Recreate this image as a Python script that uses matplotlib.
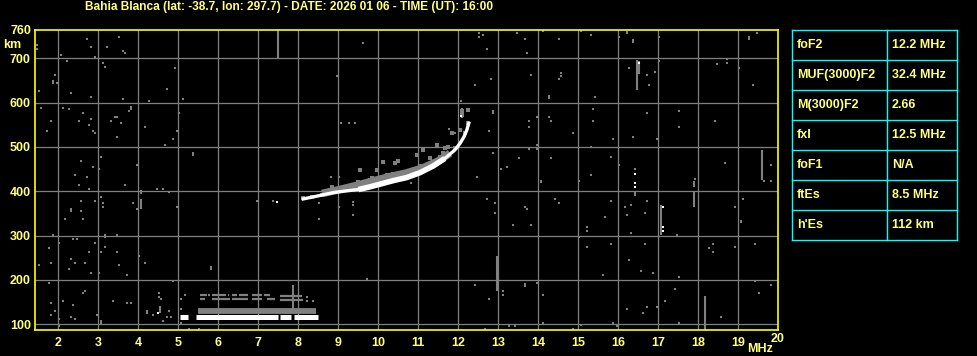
import matplotlib
matplotlib.use("Agg")
import matplotlib.pyplot as plt

TITLE = "Bahia Blanca (lat: -38.7, lon: 297.7) - DATE: 2026 01 06 - TIME (UT): 16:00"

freq_ticks = list(range(2, 20))
height_ticks = list(range(100, 800, 100))

param_names = ["foF2", "MUF(3000)F2", "M(3000)F2", "fxI", "foF1", "ftEs", "h'Es"]
param_values = ["12.2 MHz", "32.4 MHz", "2.66", "12.5 MHz", "N/A", "8.5 MHz", "112 km"]

# F2 trace (white): MHz, km
f2_freq = [8.09, 8.47, 8.88, 9.22, 9.51, 9.80, 10.05, 10.38, 10.72, 11.05,
           11.38, 11.67, 11.92, 12.05, 12.15, 12.22, 12.28]
f2_height = [382, 389, 397, 401, 404, 410, 416, 424, 431, 442,
             457, 474, 493, 508, 523, 538, 557]

# grey band just above the F2 trace
f2_halo_freq = [8.6, 9.0, 9.5, 9.9, 10.3, 10.7, 11.1, 11.5, 11.8]
f2_halo_height = [395, 403, 414, 424, 433, 441, 452, 468, 486]

# grey echoes scattered around the F2 trace
f2_grey = [(8.13, 384), (8.34, 388), (8.59, 392), (8.80, 403), (8.84, 410),
           (9.09, 403), (9.34, 404), (9.51, 422), (9.55, 448), (9.80, 425),
           (9.84, 429), (9.97, 448), (10.13, 467), (10.13, 433), (10.22, 437),
           (10.38, 440), (10.42, 463), (10.51, 469), (10.55, 440), (10.72, 444),
           (10.88, 448), (10.97, 482), (11.05, 456), (11.13, 493), (11.26, 459),
           (11.30, 474), (11.42, 467), (11.47, 504), (11.55, 478), (11.63, 486),
           (11.67, 497), (11.76, 501), (11.84, 531), (11.92, 497), (12.05, 538),
           (12.09, 580), (12.09, 572), (12.26, 583), (12.26, 553), (12.17, 531)]

# sporadic E layer: segments (start MHz, end MHz, km)
es_white = [(5.05, 5.26, 117), (5.45, 7.50, 116), (7.55, 7.83, 117), (7.90, 8.50, 116)]
es_grey_block = [(5.50, 8.45, 131)]
es_grey_rows = [(5.55, 5.72, 165), (5.76, 5.80, 165), (5.86, 6.20, 165), (6.24, 6.28, 165),
                (6.36, 6.47, 165), (6.53, 6.76, 165), (6.86, 7.09, 165), (7.16, 7.30, 165),
                (7.55, 8.10, 163),
                (5.55, 5.68, 156), (5.84, 6.30, 156), (6.36, 6.76, 156), (6.84, 7.09, 156),
                (7.22, 7.42, 156), (7.55, 8.12, 155)]

# short vertical grey streaks: MHz, km from, km to
streaks = [(7.5, 700, 765), (16.48, 629, 696), (16.53, 665, 695), (12.97, 175, 254),
           (19.6, 425, 493), (17.9, 365, 399), (17.9, 410, 424), (17.08, 301, 369),
           (18.17, 87, 164), (7.875, 125, 188), (4.07, 359, 382), (4.54, 125, 142),
           (12.09, 565, 588), (16.43, 390, 399)]

white_dots = [(7.47, 376), (16.53, 690), (16.43, 439), (16.43, 419), (16.43, 410),
              (17.13, 365), (17.13, 320), (17.13, 311), (4.51, 125), (12.07, 570)]

noise_dots = [
    (1.47, 730), (1.47, 721), (2.72, 744), (2.82, 726), (3.52, 749), (3.22, 726),
    (3.62, 717), (3.67, 713), (2.07, 708), (2.92, 704), (2.22, 695), (3.12, 690),
    (3.17, 681), (4.92, 677), (1.92, 663), (1.87, 644), (1.87, 648), (1.97, 645),
    (1.52, 627), (2.32, 622), (2.82, 613), (4.72, 631), (3.62, 609), (4.27, 604),
    (5.12, 609), (1.57, 587), (2.12, 587), (2.27, 586), (2.62, 577), (3.82, 589),
    (3.82, 585), (3.77, 582), (5.02, 577), (1.82, 559), (2.52, 559), (2.82, 564),
    (3.42, 568), (3.47, 568), (3.32, 559), (2.77, 550), (3.57, 555), (4.17, 546),
    (1.72, 537), (2.87, 537), (2.92, 532), (4.97, 537), (4.87, 519), (3.47, 523),
    (4.67, 505), (5.37, 486), (5.37, 482), (2.57, 469), (3.07, 478), (2.87, 455),
    (3.02, 451), (3.97, 460), (2.42, 437), (2.72, 433),
    (9.62, 735), (8.97, 659), (12.52, 757), (12.62, 753), (12.52, 749), (13.47, 758),
    (13.67, 744), (13.72, 713), (12.72, 722), (13.82, 663), (12.82, 654), (12.42, 640),
    (9.07, 555), (9.27, 555), (9.42, 555), (12.07, 604), (12.87, 582), (12.87, 577),
    (13.77, 559), (13.77, 546), (12.77, 537), (11.77, 541), (11.92, 532), (12.87, 487),
    (13.52, 474), (13.07, 451), (13.22, 455), (13.77, 496), (8.82, 433), (9.02, 433),
    (12.47, 433),
    (14.13, 762), (14.53, 744), (15.08, 762), (15.33, 753), (16.03, 749), (16.23, 760),
    (16.23, 756), (16.38, 741), (16.38, 737), (17.03, 749), (19.28, 747), (19.28, 743),
    (19.48, 758), (13.83, 663), (14.58, 667), (14.58, 659), (14.53, 654), (16.28, 677),
    (16.73, 663), (16.78, 640), (16.93, 668), (17.03, 695), (18.48, 686), (18.73, 699),
    (18.73, 690), (19.03, 677), (19.38, 640), (14.28, 615), (14.28, 611), (15.43, 613),
    (13.98, 568), (14.28, 568), (14.33, 559), (15.38, 586), (15.38, 559), (16.73, 577),
    (17.53, 582), (18.43, 559), (17.53, 546), (14.88, 532), (15.88, 519), (16.38, 523),
    (16.98, 519), (13.98, 505), (13.98, 496), (15.33, 501), (14.33, 474), (15.83, 478),
    (16.03, 460), (16.43, 451), (15.33, 437), (17.93, 428), (18.68, 464), (19.83, 460),
    (2.52, 415), (2.77, 406), (3.67, 415), (4.47, 406), (4.62, 406), (3.07, 388),
    (2.57, 379), (2.92, 379), (2.32, 360), (2.32, 356), (3.12, 374), (3.12, 365),
    (2.57, 356), (3.87, 374), (4.07, 400), (4.07, 396), (3.97, 359), (4.77, 398),
    (4.97, 365), (2.17, 338), (2.62, 338), (6.97, 379), (7.37, 379), (1.87, 302),
    (2.02, 284), (2.37, 293), (2.47, 293), (2.92, 284), (3.17, 302), (3.17, 298),
    (3.47, 302), (1.77, 271), (2.77, 262), (3.07, 262), (3.17, 275), (3.47, 262),
    (2.32, 248), (2.42, 239), (2.67, 239), (1.82, 239), (1.52, 234), (2.27, 225),
    (3.52, 234), (2.82, 216), (3.02, 216), (3.72, 212), (4.02, 253), (4.17, 239),
    (5.82, 229), (5.82, 225), (4.87, 198), (1.77, 194), (2.67, 176), (2.62, 171),
    (2.12, 153), (1.82, 149), (2.37, 144), (3.37, 153), (3.72, 149), (3.82, 149),
    (4.52, 171), (4.52, 162), (4.57, 158), (1.92, 131), (1.82, 122), (2.02, 113),
    (2.32, 117), (2.42, 113), (2.97, 122), (3.07, 108), (3.07, 104), (4.22, 130),
    (4.22, 126), (4.37, 122), (4.62, 108), (4.77, 131), (4.72, 117), (4.82, 117),
    (5.07, 158), (5.17, 167), (5.07, 135), (5.07, 104), (5.27, 90), (5.52, 90),
    (2.02, 95),
    (10.82, 419), (12.72, 383), (12.92, 374), (12.92, 352), (13.67, 365), (13.72, 361),
    (13.37, 325), (13.82, 325), (9.02, 365), (9.37, 347), (9.37, 376), (9.37, 370),
    (8.52, 338), (8.52, 373), (9.72, 203), (12.42, 189), (12.77, 158), (13.12, 176),
    (13.12, 167), (13.67, 191), (13.67, 187), (12.67, 90), (13.27, 95), (13.42, 95),
    (8.22, 162), (8.22, 153), (8.37, 153),
    (14.08, 424), (14.08, 420), (15.03, 424), (19.64, 424), (19.83, 424), (14.43, 383),
    (14.53, 374), (15.83, 379), (16.18, 365), (16.33, 370), (16.73, 379), (16.23, 347),
    (16.68, 352), (15.68, 343), (15.23, 320), (15.23, 311), (13.83, 325), (16.33, 307),
    (17.48, 302), (19.13, 383), (18.93, 365), (19.08, 334), (19.08, 330), (15.03, 298),
    (15.23, 275), (15.83, 280), (16.68, 280), (18.38, 280), (18.28, 271), (18.38, 264),
    (18.93, 275), (19.43, 280), (16.28, 244), (16.58, 221), (16.88, 216), (15.63, 212),
    (17.53, 207), (13.98, 194), (19.43, 198), (19.83, 189), (14.13, 167), (17.43, 180),
    (19.53, 171), (17.18, 153), (16.23, 135), (16.73, 140), (16.63, 126), (16.98, 140),
    (18.58, 117), (14.13, 104), (15.88, 104), (17.53, 104), (14.88, 90), (15.08, 99),
    (15.98, 95),
]

YELLOW = "#ffff80"
GREY = "#808080"
FONT = "Liberation Sans"

W, H = 978, 356
fig = plt.figure(figsize=(W / 100, H / 100), dpi=100, facecolor="black")
ax = fig.add_axes([35 / W, 26 / H, 743 / W, 300 / H], facecolor="black")
ax.set_xlim(1.425, 20.0)
ax.set_ylim(87.1, 763.8)

ax.set_xticks(freq_ticks)
ax.set_xticklabels([str(v) for v in freq_ticks])
ax.set_yticks(height_ticks)
ax.set_yticklabels([str(v) for v in height_ticks])
ax.tick_params(length=0, colors=YELLOW, labelsize=9)
ax.tick_params(axis="x", pad=5)
ax.tick_params(axis="y", pad=3)
for lab in ax.get_xticklabels() + ax.get_yticklabels():
    lab.set_fontweight("bold")
    lab.set_family(FONT)
ax.grid(True, color=GREY, lw=0.9)
ax.set_axisbelow(True)
for s in ax.spines.values():
    s.set_color("#ffff00")
    s.set_linewidth(1.2)

# noise
nf, nh = zip(*noise_dots)
ax.plot(nf, nh, "s", color=GREY, ms=1.6, mew=0)
for f, h0, h1 in streaks:
    ax.plot([f, f], [h0, h1], color=GREY, lw=1.5, solid_capstyle="butt")

# sporadic E
for f0, f1, h in es_grey_block:
    ax.plot([f0, f1], [h, h], color=GREY, lw=4.2, solid_capstyle="butt")
for f0, f1, h in es_grey_rows:
    ax.plot([f0, f1], [h, h], color=GREY, lw=1.6, solid_capstyle="butt")
for f0, f1, h in es_white:
    ax.plot([f0, f1], [h, h], color="white", lw=3.6, solid_capstyle="butt")

# F2
ax.plot(f2_halo_freq, f2_halo_height, color=GREY, lw=5.5, solid_capstyle="butt")
gf, gh = zip(*f2_grey)
ax.plot(gf, gh, "s", color=GREY, ms=3.0, mew=0)
ax.plot(f2_freq, f2_height, color="white", lw=2.4, solid_capstyle="butt")
ax.plot(f2_freq[4:12], f2_height[4:12], color="white", lw=4.0, solid_capstyle="butt")
wf, wh = zip(*white_dots)
ax.plot(wf, wh, "s", color="white", ms=1.8, mew=0)

# extra axis labels
txt = dict(color=YELLOW, fontweight="bold", family=FONT, fontsize=9)
fig.text(31 / W, 1 - 31 / H, "760", ha="right", va="center", **txt)
fig.text(21 / W, 1 - 45 / H, "km", ha="right", va="center", **txt)
fig.text(778 / W, 1 - 339 / H, "20", ha="center", va="center", **txt)
fig.text(760 / W, 1 - 349 / H, "MHz", ha="center", va="center", **txt)
fig.text(289 / W, 1 - 7 / H, TITLE, ha="center", va="center",
         color=YELLOW, fontweight="bold", family=FONT, fontsize=8.6)

# parameter table
tax = fig.add_axes([792 / W, (H - 240) / H, 165 / W, 210 / H])
tax.set_xlim(0, 165)
tax.set_ylim(210, 0)
tax.axis("off")
CYAN = "#00ffff"
n = len(param_names)
for i in range(n + 1):
    tax.plot([0, 165], [i * 30, i * 30], color=CYAN, lw=1, clip_on=False)
for x in (0, 95, 165):
    tax.plot([x, x], [0, 210], color=CYAN, lw=1, clip_on=False)
for i, (name, val) in enumerate(zip(param_names, param_values)):
    tax.text(5, i * 30 + 15, name, ha="left", va="center", **txt)
    tax.text(100, i * 30 + 15, val, ha="left", va="center", **txt)

fig.savefig("out.png", dpi=100, facecolor="black")
